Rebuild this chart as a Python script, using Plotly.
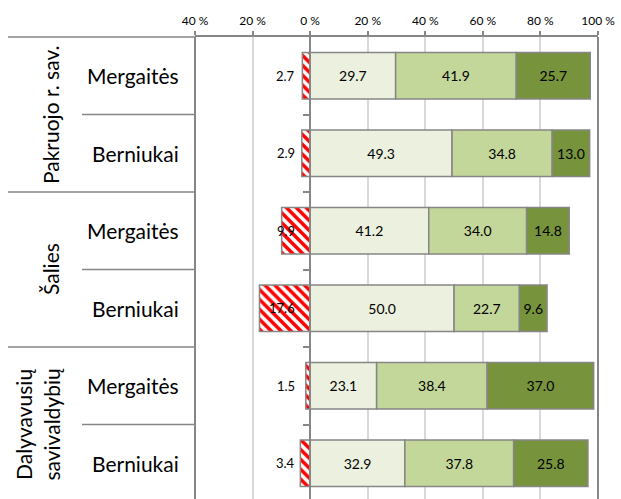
import plotly.graph_objects as go

groups = ["Pakruojo r. sav.", "Šalies", "Dalyvavusių<br>savivaldybių"]
genders = ["Mergaitės", "Berniukai"]

neg_vals = [2.7, 2.9, 9.9, 17.6, 1.5, 3.4]
low_vals = [29.7, 49.3, 41.2, 50.0, 23.1, 32.9]
mid_vals = [41.9, 34.8, 34.0, 22.7, 38.4, 37.8]
high_vals = [25.7, 13.0, 14.8, 9.6, 37.0, 25.8]

tick_vals = [-40, -20, 0, 20, 40, 60, 80, 100]
tick_text = ["40 %", "20 %", "0 %", "20 %", "40 %", "60 %", "80 %", "100 %"]

W, H = 621, 499
L, R, T = 195, 23, 37
PW = W - L - R
FONT = "Lato"
EDGE = "#868686"


def px(p):
    return (p - L) / PW


rows = list(range(len(neg_vals)))

fig = go.Figure()
fig.add_trace(go.Bar(
    y=rows, x=[-v for v in neg_vals], orientation='h', width=0.6,
    marker=dict(color='white', line=dict(color=EDGE, width=1.5),
                pattern=dict(shape='\\', fgcolor='#FF0000', bgcolor='white',
                             fgopacity=1, size=7, solidity=0.5)),
    hoverinfo='skip'
))
for vals, color in [(low_vals, '#EBF1DE'), (mid_vals, '#C4D79B'), (high_vals, '#77933C')]:
    fig.add_trace(go.Bar(
        y=rows, x=vals, orientation='h', width=0.6,
        marker=dict(color=color, line=dict(color=EDGE, width=1.5)),
        text=[f"{v:.1f}" for v in vals],
        textposition='inside', insidetextanchor='middle',
        textfont=dict(family=FONT, size=14, color='black'),
        hoverinfo='skip'
    ))

annotations = []
# negative value labels, left of zero line
for r, v in zip(rows, neg_vals):
    annotations.append(dict(x=0, y=r, xref='x', yref='y', text=f"{v:.1f}",
                            showarrow=False, xanchor='right', xshift=-13,
                            font=dict(family=FONT, size=13, color='black')))
# gender labels
for r in rows:
    annotations.append(dict(x=px(181), y=r, xref='paper', yref='y',
                            text=genders[r % 2], showarrow=False, xanchor='right',
                            font=dict(family=FONT, size=21, color='black')))
# group labels
for g, name in enumerate(groups):
    annotations.append(dict(x=px(65), y=2 * g + 0.5, xref='paper', yref='y',
                            text=name, textangle=-90, showarrow=False,
                            xanchor='right',
                            font=dict(family=FONT, size=21, color='black')))

shapes = []
line = dict(color=EDGE, width=1.5)
shapes.append(dict(type='line', xref='paper', yref='paper', x0=px(8), x1=0, y0=1, y1=1, line=line))
for b in [1.5, 3.5]:
    shapes.append(dict(type='line', xref='paper', yref='y', x0=px(8), x1=0, y0=b, y1=b, line=line))
for b in [0.5, 2.5, 4.5]:
    shapes.append(dict(type='line', xref='paper', yref='y', x0=px(82), x1=0, y0=b, y1=b, line=line))
for xp in [0, 1]:
    shapes.append(dict(type='line', xref='paper', yref='paper', x0=xp, x1=xp, y0=0, y1=1,
                       line=dict(color=EDGE, width=2)))

fig.update_layout(
    barmode='relative',
    width=W, height=H,
    margin=dict(l=L, r=R, t=T, b=0),
    paper_bgcolor='white', plot_bgcolor='white',
    showlegend=False,
    font=dict(family=FONT, color='black'),
    xaxis=dict(side='top', range=[-40, 100], tickvals=tick_vals, ticktext=tick_text,
               showgrid=True, gridcolor='#D9D9D9', gridwidth=1.5, zeroline=False,
               showline=True, linecolor=EDGE, linewidth=1.5, automargin=False,
               ticks='outside', ticklen=4, tickcolor=EDGE, tickwidth=1.5,
               ticklabelstandoff=1,
               tickfont=dict(family=FONT, size=12, color='black')),
    yaxis=dict(range=[5.46, -0.5], anchor='free', position=40 / 140,
               showline=True, linecolor=EDGE, linewidth=2, automargin=False,
               tickvals=[0.5, 1.5, 2.5, 3.5, 4.5, 5.5], ticks='outside', ticklen=6,
               tickcolor=EDGE, tickwidth=1.5, showticklabels=False,
               showgrid=False, zeroline=False),
    annotations=annotations,
    shapes=shapes,
    uniformtext=dict(mode='show', minsize=14),
)

fig.write_html("out.html", config={'displayModeBar': False},
               post_script="document.body.style.margin='0';")
